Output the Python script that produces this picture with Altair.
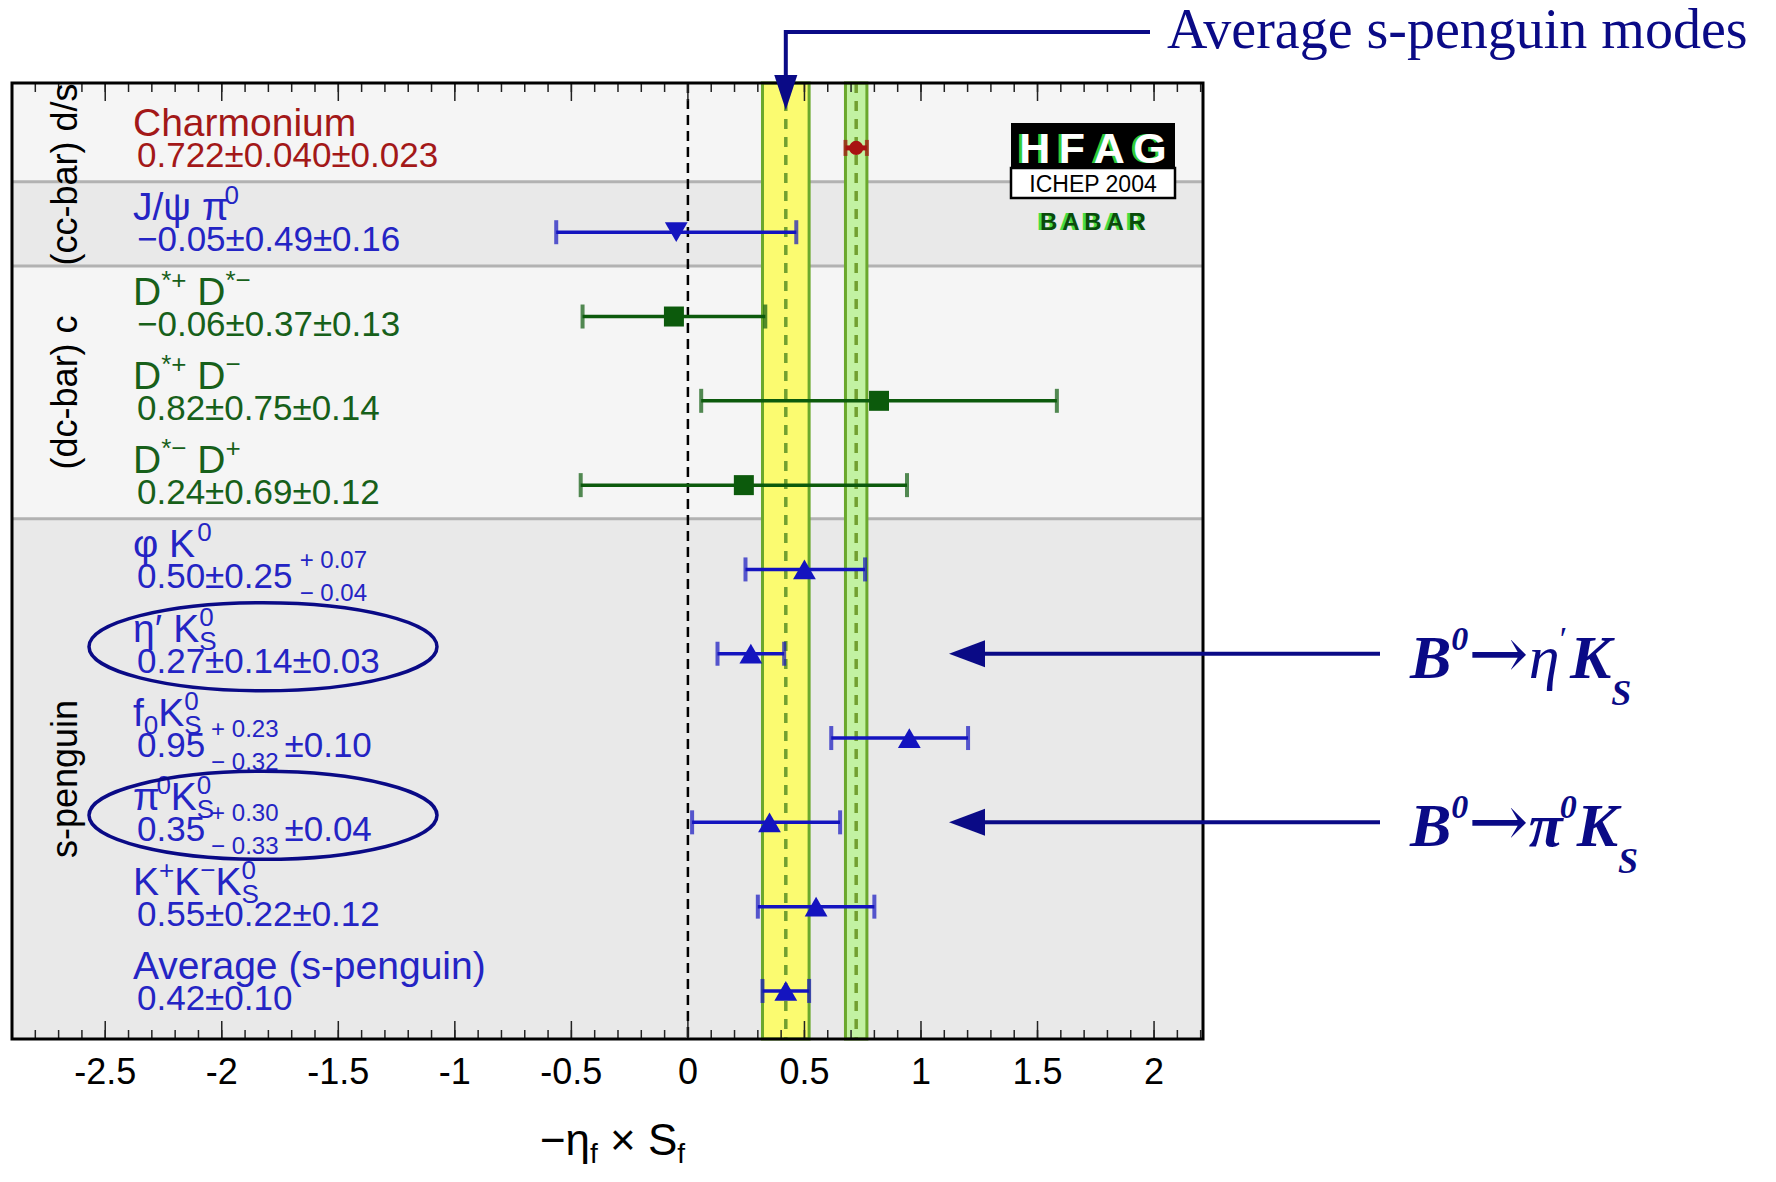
import altair as alt
import pandas as pd

# ---------------- values ----------------
modes = ["Charmonium", "J/ψ π0", "D*+ D*−", "D*+ D−", "D*− D+", "φ K0",
         "η′ K0S", "f0 K0S", "π0 K0S", "K+K−K0S", "Average (s-penguin)"]
mode_style = ["charmonium", "cc", "dc", "dc", "dc", "s", "s", "s", "s", "s", "s"]
mode_group = ["(cc-bar) d/s", "(cc-bar) d/s", "(dc-bar) c", "(dc-bar) c", "(dc-bar) c",
              "s-penguin", "s-penguin", "s-penguin", "s-penguin", "s-penguin", "s-penguin"]
mode_shade = ["light", "dark", "light", "light", "light",
              "dark", "dark", "dark", "dark", "dark", "dark"]
central = [0.722, -0.05, -0.06, 0.82, 0.24, 0.50, 0.27, 0.95, 0.35, 0.55, 0.42]
err_minus = [0.046, 0.515, 0.392, 0.763, 0.700, 0.253, 0.143, 0.335, 0.332, 0.250, 0.100]
err_plus = [0.046, 0.515, 0.392, 0.763, 0.700, 0.260, 0.143, 0.252, 0.303, 0.250, 0.100]

name_markup = [
    [("n", "Charmonium")],
    [("n", "J/ψ π"), ("sup", "0")],
    [("n", "D"), ("sup", "*+"), ("n", " D"), ("sup", "*−")],
    [("n", "D"), ("sup", "*+"), ("n", " D"), ("sup", "−")],
    [("n", "D"), ("sup", "*−"), ("n", " D"), ("sup", "+")],
    [("n", "φ K"), ("sup", "0")],
    [("n", "η′"), ("n", " K"), ("ss", "0", "S")],
    [("n", "f"), ("sub", "0"), ("n", "K"), ("ss", "0", "S")],
    [("n", "π"), ("sup", "0"), ("n", "K"), ("ss", "0", "S")],
    [("n", "K"), ("sup", "+"), ("n", "K"), ("sup", "−"), ("n", "K"), ("ss", "0", "S")],
    [("n", "Average (s-penguin)")],
]
value_markup = [
    [("n", "0.722±0.040±0.023")],
    [("n", "−0.05±0.49±0.16")],
    [("n", "−0.06±0.37±0.13")],
    [("n", "0.82±0.75±0.14")],
    [("n", "0.24±0.69±0.12")],
    [("n", "0.50±0.25"), ("ss", "+ 0.07", "− 0.04")],
    [("n", "0.27±0.14±0.03")],
    [("n", "0.95"), ("ss", "+ 0.23", "− 0.32"), ("n", "±0.10")],
    [("n", "0.35"), ("ss", "+ 0.30", "− 0.33"), ("n", "±0.04")],
    [("n", "0.55±0.22±0.12")],
    [("n", "0.42±0.10")],
]

average_value, average_err = 0.42, 0.10       # s-penguin average band
reference_value, reference_err = 0.722, 0.046  # charmonium band
zero_line = [0.0]

tick_values = [-2.5, -2.0, -1.5, -1.0, -0.5, 0.0, 0.5, 1.0, 1.5, 2.0]
tick_labels = ["-2.5", "-2", "-1.5", "-1", "-0.5", "0", "0.5", "1", "1.5", "2"]
minor_values = [round(-2.9 + 0.1 * k, 1) for k in range(52)]

x_title = [("n", "−η"), ("sub", "f"), ("n", " × S"), ("sub", "f")]
top_note = "Average s-penguin modes"
highlighted = ["η′ K0S", "π0 K0S"]
highlight_markup = [
    [("B", "bi", "n"), ("0", "bi", "sup"), ("→", "arrow", "n"), ("η", "i", "n"),
     ("′", "r", "sup"), ("K", "bi", "n"), ("S", "bi", "sub")],
    [("B", "bi", "n"), ("0", "bi", "sup"), ("→", "arrow", "n"), ("π", "bi", "n"),
     ("0", "bi", "sup"), ("K", "bi", "n"), ("S", "bi", "sub")],
]
logo_title, logo_conf, logo_exp = "H\u2009F\u2009A\u2009G", "ICHEP 2004", "B\u2009A\u2009B\u2009A\u2009R"

# ---------------- geometry / scales ----------------
XMIN, XMAX = -2.90, 2.21
YMIN, YMAX = -0.77, 10.57
W, H = 1191, 956
PXU = W / (XMAX - XMIN)
PXR = H / (YMAX - YMIN)
XS = alt.Scale(domain=[XMIN, XMAX], nice=False, zero=False)
YS = alt.Scale(domain=[YMIN, YMAX], nice=False, zero=False, reverse=True)


def fx(px):
    return XMIN + px / PXU


def fy(py):
    return YMIN + py / PXR


SANS = {" ": .278, ".": .278, "±": .584, "+": .584, "−": .584, "-": .333, "*": .389,
        "'": .191, "′": .2, "/": .278, "(": .333, ")": .333, "A": .667, "C": .722, "D": .722,
        "J": .5, "K": .667, "S": .667, "a": .556, "e": .556, "f": .278, "g": .556,
        "h": .556, "i": .222, "m": .833, "n": .556, "o": .556, "p": .556, "r": .333,
        "s": .5, "u": .556, "v": .5, "ψ": .69, "π": .6, "φ": .7, "η": .556, "×": .584}
SERIF = {"B": .667, "K": .667, "0": .5, "→": .838, "η": .5, "π": .5, "′": .3, "S": .5}


def wid(s, size, table):
    return sum(table.get(c, .556) for c in s) * size


def piece(t, x, dy, size, table):
    """SVG drops leading blanks, so advance past them and draw the rest."""
    s = t.lstrip(" ")
    return (s, x + wid(t[:len(t) - len(s)], size, table), dy, size)


def layout(markup, size, small, up, down, gap):
    out, x = [], 0.0
    for p in markup:
        k = p[0]
        if k == "n":
            out.append(piece(p[1], x, 0.0, size, SANS)); x += wid(p[1], size, SANS)
        elif k == "sup":
            out.append(piece(p[1], x, -up, small, SANS)); x += wid(p[1], small, SANS)
        elif k == "sub":
            out.append(piece(p[1], x, down, small, SANS)); x += wid(p[1], small, SANS)
        else:
            x += gap
            out.append(piece(p[1], x, -up, small, SANS))
            out.append(piece(p[2], x, down, small, SANS))
            x += max(wid(p[1], small, SANS), wid(p[2], small, SANS)) + gap
    return out, x


STYLE = {
    "charmonium": dict(color="#a81212", text="#a31818", shape="circle", msize=200, bw=5, cap=16),
    "cc": dict(color="#1414bf", text="#2424c4", shape="triangle-down", msize=520, bw=3.5, cap=24),
    "dc": dict(color="#0c5a0c", text="#17601a", shape="square", msize=400, bw=3.5, cap=24),
    "s": dict(color="#1414bf", text="#2424c4", shape="triangle-up", msize=520, bw=3.5, cap=24),
}
SHADE = {"light": "#f5f5f5", "dark": "#e9e9e9"}
NAVY = "#0a0a86"
SANSF, SERIFF = "Liberation Sans", "Liberation Serif"
rows = list(range(len(modes)))

# ---------------- derived tables ----------------
sections, start = [], 0
for i in range(1, len(modes) + 1):
    if i == len(modes) or mode_shade[i] != mode_shade[start]:
        sections.append((start, i - 1, mode_shade[start]))
        start = i
bg = pd.DataFrame([{"y0": YMIN if a == 0 else a - 0.6,
                    "y1": YMAX if b == len(modes) - 1 else b + 0.4,
                    "fill": SHADE[s]} for a, b, s in sections])
grp_bounds = sorted({a - 0.6 for a in rows if a > 0 and mode_group[a] != mode_group[a - 1]}
                    | {a - 0.6 for a, b, s in sections if a > 0})
seps = pd.DataFrame({"y": grp_bounds})

grp_rows = []
for g in dict.fromkeys(mode_group):
    idx = [i for i in rows if mode_group[i] == g]
    top = YMIN if idx[0] == 0 else idx[0] - 0.6
    bot = YMAX if idx[-1] == len(modes) - 1 else idx[-1] + 0.4
    grp_rows.append({"text": g, "y": (top + bot) / 2, "x": fx(54)})
grp_df = pd.DataFrame(grp_rows)

pts = pd.DataFrame({
    "row": rows, "x": central,
    "lo": [c - m for c, m in zip(central, err_minus)],
    "hi": [c + p for c, p in zip(central, err_plus)],
    "shape": [STYLE[s]["shape"] for s in mode_style],
    "msize": [STYLE[s]["msize"] for s in mode_style],
    "color": [STYLE[s]["color"] for s in mode_style],
    "bw": [STYLE[s]["bw"] for s in mode_style],
    "cap": [STYLE[s]["cap"] for s in mode_style],
})
caps = pd.concat([pts.assign(cx=pts["lo"]), pts.assign(cx=pts["hi"])])

labs = []
for i in rows:
    col = STYLE[mode_style[i]]["text"]
    pcs, _ = layout(name_markup[i], 39, 26, 16, 8, 0)
    for t, dx, dy, sz in pcs:
        labs.append(dict(x=fx(121 + dx), y=i + (-12 + dy) / PXR, text=t, size=sz, color=col))
    pcs, _ = layout(value_markup[i], 35, 24, 20, 13, 6)
    for t, dx, dy, sz in pcs:
        labs.append(dict(x=fx(125 + dx), y=i + (19 + dy) / PXR, text=t, size=sz, color=col))
labs = pd.DataFrame(labs)

pcs, tw = layout(x_title, 44, 28, 0, 8, 0)
title_df = pd.DataFrame([dict(x=fx(W / 2 + 5 - tw / 2 + dx), y=fy(H + 116 + dy), text=t, size=sz)
                         for t, dx, dy, sz in pcs])

bands = pd.DataFrame({"lo": [average_value - average_err, reference_value - reference_err],
                      "hi": [average_value + average_err, reference_value + reference_err],
                      "mid": [average_value, reference_value],
                      "fill": ["#fbfb70", "#c2f2a2"]})

hl_rows = [modes.index(m) for m in highlighted]
hl_df = pd.DataFrame({"row": hl_rows})
ann = []
for r, mk in zip(hl_rows, highlight_markup):
    x = 0.0
    for t, st, kind in mk:
        if st == "arrow":
            sz, dy = 72, 0
        elif kind == "n":
            sz, dy = 62, 0
        elif kind == "sup":
            sz, dy = 34, -28
        else:
            sz, dy = 36, 27
        ann.append(dict(x=fx(1398 + x), y=r + (24 + dy) / PXR, text=t, size=sz, st=st))
        x += wid(t, sz, SERIF)
ann = pd.DataFrame(ann)

one = pd.DataFrame({"avg": [average_value]})
dummy = pd.DataFrame({"k": [0]})

X = lambda f: alt.X(f, scale=XS, axis=None)
Y = lambda f: alt.Y(f, scale=YS, axis=None)

layers = []
layers.append(alt.Chart(bg).mark_rect().encode(
    x=alt.value(0), x2=alt.value(W), y=Y("y0:Q"), y2="y1:Q", color=alt.Color("fill:N", scale=None)))
layers.append(alt.Chart(seps).mark_rule(color="#b2b2b2", strokeWidth=3).encode(
    x=alt.value(0), x2=alt.value(W), y=Y("y:Q")))
layers.append(alt.Chart(bands).mark_rect(stroke="#6aa82c", strokeWidth=3).encode(
    x=X("lo:Q"), x2="hi:Q", y=alt.value(0), y2=alt.value(H), color=alt.Color("fill:N", scale=None)))
layers.append(alt.Chart(bands).mark_rule(color="#72a030", strokeWidth=3.5, strokeDash=[10, 8]).encode(
    x=X("mid:Q"), y=alt.value(0), y2=alt.value(H)))
layers.append(alt.Chart(pd.DataFrame({"x": zero_line})).mark_rule(
    color="black", strokeWidth=2.5, strokeDash=[10, 6]).encode(x=X("x:Q"), y=alt.value(0), y2=alt.value(H)))
for vals, ln in [(tick_values, 18), (minor_values, 9)]:
    tdf = pd.DataFrame({"x": vals})
    layers.append(alt.Chart(tdf).mark_rule(color="#222222", strokeWidth=1.5).encode(
        x=X("x:Q"), y=alt.value(0), y2=alt.value(ln)))
    layers.append(alt.Chart(tdf).mark_rule(color="#222222", strokeWidth=1.5).encode(
        x=X("x:Q"), y=alt.value(H), y2=alt.value(H - ln)))
layers.append(alt.Chart(pts).mark_rule().encode(
    x=X("lo:Q"), x2="hi:Q", y=Y("row:Q"), color=alt.Color("color:N", scale=None),
    strokeWidth=alt.StrokeWidth("bw:Q", scale=None)))
layers.append(alt.Chart(caps).mark_tick(orient="vertical", thickness=4).encode(
    x=X("cx:Q"), y=Y("row:Q"), color=alt.Color("color:N", scale=None), size=alt.Size("cap:Q", scale=None)))
layers.append(alt.Chart(pts).mark_point(filled=True, opacity=1).encode(
    x=X("x:Q"), y=Y("row:Q"), shape=alt.Shape("shape:N", scale=None),
    size=alt.Size("msize:Q", scale=None), color=alt.Color("color:N", scale=None)))
layers.append(alt.Chart(labs).mark_text(align="left", baseline="alphabetic", font=SANSF).encode(
    x=X("x:Q"), y=Y("y:Q"), text="text:N", size=alt.Size("size:Q", scale=None),
    color=alt.Color("color:N", scale=None)))
layers.append(alt.Chart(grp_df).mark_text(angle=270, align="center", baseline="middle", font=SANSF,
                                          fontSize=36, color="black").encode(
    x=X("x:Q"), y=Y("y:Q"), text="text:N"))
# logo
layers.append(alt.Chart(dummy).mark_rect(color="black").encode(
    x=alt.value(999), x2=alt.value(1163), y=alt.value(40), y2=alt.value(85)))
layers.append(alt.Chart(dummy).mark_rect(fill="white", stroke="black", strokeWidth=2.5).encode(
    x=alt.value(999), x2=alt.value(1163), y=alt.value(85), y2=alt.value(115)))
for txt, fs, fw, cols, yb in [(logo_title, 43, "bold", ("#33cc33", "white"), 80),
                              (logo_conf, 23, "normal", (None, "black"), 109),
                              (logo_exp, 24, "bold", ("#44dd44", "#0b4a0b"), 147)]:
    tdf = pd.DataFrame({"t": [txt]})
    if cols[0]:
        layers.append(alt.Chart(tdf).mark_text(
            font=SANSF, fontSize=fs, fontWeight=fw, color=cols[0], align="center",
            baseline="alphabetic", dx=-3).encode(x=alt.value(1081), y=alt.value(yb), text="t:N"))
    layers.append(alt.Chart(tdf).mark_text(
        font=SANSF, fontSize=fs, fontWeight=fw, color=cols[1], align="center",
        baseline="alphabetic").encode(x=alt.value(1081), y=alt.value(yb), text="t:N"))
# frame
layers.append(alt.Chart(dummy).mark_rect(fillOpacity=0, stroke="black", strokeWidth=3).encode(
    x=alt.value(0), x2=alt.value(W), y=alt.value(0), y2=alt.value(H)))
# axis labels and title
layers.append(alt.Chart(pd.DataFrame({"x": tick_values, "label": tick_labels})).mark_text(
    font=SANSF, fontSize=36, color="black", align="center", baseline="alphabetic").encode(
    x=X("x:Q"), y=alt.value(H + 45), text="label:N"))
layers.append(alt.Chart(title_df).mark_text(font=SANSF, color="black", align="left",
                                            baseline="alphabetic").encode(
    x=X("x:Q"), y=Y("y:Q"), text="text:N", size=alt.Size("size:Q", scale=None)))
# ellipses
ELL = ("M-1,0C-1,-0.1397,-0.5523,-0.253,0,-0.253C0.5523,-0.253,1,-0.1397,1,0"
       "C1,0.1397,0.5523,0.253,0,0.253C-0.5523,0.253,-1,0.1397,-1,0Z")
layers.append(alt.Chart(hl_df).transform_calculate(ey=f"datum.row - {7 / PXR}").mark_point(
    shape=ELL, filled=False, color=NAVY, strokeWidth=3.5, size=348 ** 2, opacity=1).encode(
    x=alt.value(251), y=Y("ey:Q")))
# arrows
layers.append(alt.Chart(hl_df).mark_rule(color=NAVY, strokeWidth=4).encode(
    x=alt.value(955), x2=alt.value(1368), y=Y("row:Q")))
layers.append(alt.Chart(hl_df).mark_point(shape="M1,-0.75L1,0.75L-1,0Z", filled=True, color=NAVY,
                                          size=1296, opacity=1).encode(x=alt.value(955), y=Y("row:Q")))
layers.append(alt.Chart(one).mark_rule(color=NAVY, strokeWidth=4).encode(
    x=X("avg:Q"), x2=alt.value(1138), y=alt.value(-51)))
layers.append(alt.Chart(one).mark_rule(color=NAVY, strokeWidth=4).encode(
    x=X("avg:Q"), y=alt.value(-53), y2=alt.value(0)))
layers.append(alt.Chart(one).mark_point(shape="M-0.66,-1L0.66,-1L0,1Z", filled=True, color=NAVY,
                                        size=1225, opacity=1).encode(x=X("avg:Q"), y=alt.value(9.5)))
layers.append(alt.Chart(pd.DataFrame({"t": [top_note]})).mark_text(
    font=SERIFF, fontSize=56, color=NAVY, align="left", baseline="alphabetic").encode(
    x=alt.value(1155), y=alt.value(-35), text="t:N"))
for st, kw in [("bi", dict(font=SERIFF, fontStyle="italic", fontWeight="bold")),
               ("i", dict(font=SERIFF, fontStyle="italic")),
               ("r", dict(font=SERIFF)),
               ("arrow", dict(font="DejaVu Serif"))]:
    sub = ann[ann["st"] == st]
    if len(sub):
        layers.append(alt.Chart(sub).mark_text(color=NAVY, align="left",
                                               baseline="alphabetic", **kw).encode(
            x=X("x:Q"), y=Y("y:Q"), text="text:N", size=alt.Size("size:Q", scale=None)))

chart = alt.layer(*layers).properties(
    width=W, height=H,
    padding={"left": 4, "top": 75, "right": 565, "bottom": 135},
    autosize=alt.AutoSizeParams(type="none"),
    background="white",
).configure_view(strokeWidth=0)

chart.save("out.html", embed_options={"renderer": "svg", "actions": False})
